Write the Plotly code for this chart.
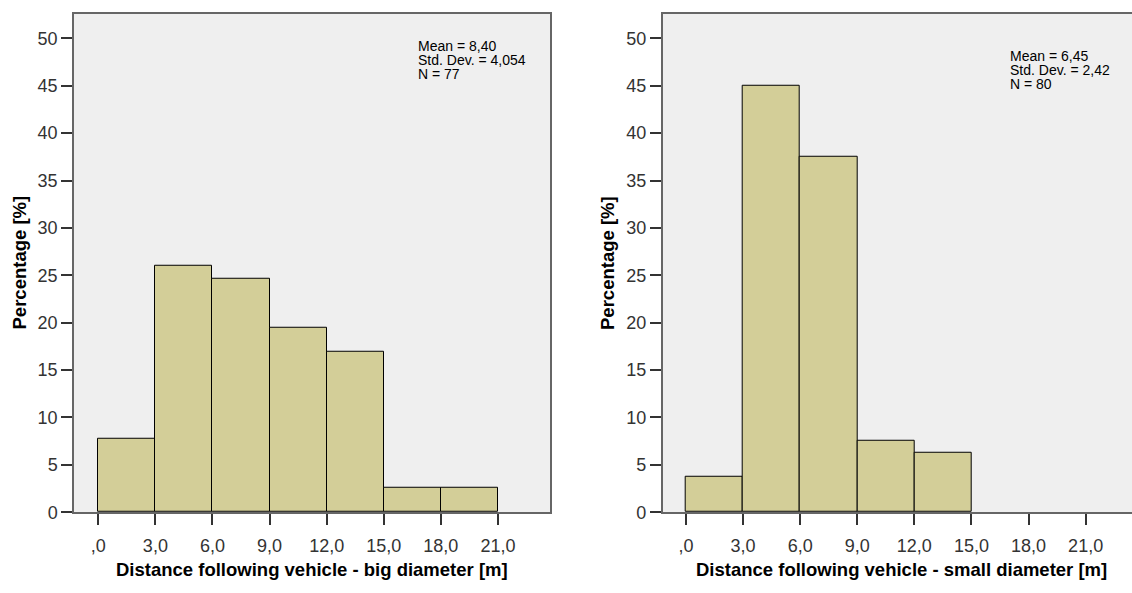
import plotly.graph_objects as go

# Histogram bins (metres) and percentage of observations per bin
bin_edges = [0, 3, 6, 9, 12, 15, 18, 21]
big_pct = [7.79, 25.97, 24.68, 19.48, 16.88, 2.60, 2.60]
small_pct = [3.75, 45.00, 37.50, 7.50, 6.25]

x_tickvals = [0, 3, 6, 9, 12, 15, 18, 21]
x_ticktext = [",0", "3,0", "6,0", "9,0", "12,0", "15,0", "18,0", "21,0"]
y_tickvals = [0, 5, 10, 15, 20, 25, 30, 35, 40, 45, 50]

big_stats = ["Mean = 8,40", "Std. Dev. = 4,054", "N = 77"]
small_stats = ["Mean = 6,45", "Std. Dev. = 2,42", "N = 80"]

x_title_big = "Distance following vehicle - big diameter [m]"
x_title_small = "Distance following vehicle - small diameter [m]"
y_title = "Percentage [%]"

W, H = 1132, 593
FONT = "Liberation Sans, Arial, sans-serif"
BAR_FILL = "#D3CE98"
PLOT_BG = "#EFEFEF"
BORDER = "#666666"


def centers(edges, n):
    return [(edges[i] + edges[i + 1]) / 2 for i in range(n)]


def widths(edges, n):
    return [edges[i + 1] - edges[i] for i in range(n)]


fig = go.Figure()
fig.add_trace(go.Bar(
    x=centers(bin_edges, len(big_pct)), y=big_pct,
    width=widths(bin_edges, len(big_pct)),
    marker=dict(color=BAR_FILL, line=dict(color="#000000", width=1)),
    xaxis="x", yaxis="y", showlegend=False, hoverinfo="skip",
))
fig.add_trace(go.Bar(
    x=centers(bin_edges, len(small_pct)), y=small_pct,
    width=widths(bin_edges, len(small_pct)),
    marker=dict(color=BAR_FILL, line=dict(color="#000000", width=1)),
    xaxis="x2", yaxis="y2", showlegend=False, hoverinfo="skip",
))

px_per_unit = 19.03
y_dom = [1 - 521 / H, 1 - 14 / H]

common_x = dict(
    tickmode="array", tickvals=x_tickvals, ticktext=x_ticktext,
    showgrid=False, zeroline=False, showline=True, linecolor=BORDER,
    linewidth=1.5, ticks="outside", ticklen=11, tickwidth=1.5,
    tickcolor="#333333", tickfont=dict(family=FONT, size=18, color="#333333"),
    ticklabelstandoff=5, fixedrange=True,
)
common_y = dict(
    tickmode="array", tickvals=y_tickvals, range=[0, 52.6],
    showgrid=False, zeroline=False, showline=True, linecolor=BORDER,
    linewidth=1.5, ticks="outside", ticklen=11, tickwidth=1.5,
    tickcolor="#333333", tickfont=dict(family=FONT, size=18, color="#333333"),
    ticklabelstandoff=0, fixedrange=True, domain=y_dom,
)

left_px = (74, 550)
left_zero = 98.3
right_px = (662.7, W)
right_zero = 686.0

fig.update_layout(
    width=W, height=H,
    margin=dict(l=0, r=0, t=0, b=0),
    paper_bgcolor="white", plot_bgcolor=PLOT_BG,
    bargap=0,
    xaxis=dict(common_x, domain=[left_px[0] / W, left_px[1] / W],
               range=[(left_px[0] - left_zero) / px_per_unit,
                      (left_px[1] - left_zero) / px_per_unit],
               anchor="y", mirror=True),
    yaxis=dict(common_y, anchor="x", mirror=True),
    xaxis2=dict(common_x, domain=[right_px[0] / W, 1.0],
                range=[(right_px[0] - right_zero) / px_per_unit,
                       (right_px[1] - right_zero) / px_per_unit],
                anchor="y2", mirror=True),
    yaxis2=dict(common_y, anchor="x2", mirror=False),
)

annotations = []
# Axis titles
annotations.append(dict(text=f"<b>{x_title_big}</b>", x=312 / W, y=1 - 579 / H,
                        xref="paper", yref="paper", showarrow=False,
                        xanchor="center", yanchor="middle",
                        font=dict(family=FONT, size=18.5, color="#000000")))
annotations.append(dict(text=f"<b>{x_title_small}</b>", x=901 / W, y=1 - 579 / H,
                        xref="paper", yref="paper", showarrow=False,
                        xanchor="center", yanchor="middle",
                        font=dict(family=FONT, size=18.5, color="#000000")))
for xc in (19.5, 608):
    annotations.append(dict(text=f"<b>{y_title}</b>", x=xc / W, y=1 - 267.5 / H,
                            xref="paper", yref="paper", showarrow=False,
                            textangle=-90, xanchor="center", yanchor="middle",
                            font=dict(family=FONT, size=18.5, color="#000000")))

# Summary statistics, one line per annotation
for lines, x0, y0 in ((big_stats, 417, 47), (small_stats, 1009, 57)):
    for i, line in enumerate(lines):
        annotations.append(dict(text=line, x=x0 / W, y=1 - (y0 + i * 14) / H,
                                xref="paper", yref="paper", showarrow=False,
                                xanchor="left", yanchor="middle", borderpad=0,
                                font=dict(family=FONT, size=14, color="#000000")))

fig.update_layout(annotations=annotations)

fig.write_html("out.html")
